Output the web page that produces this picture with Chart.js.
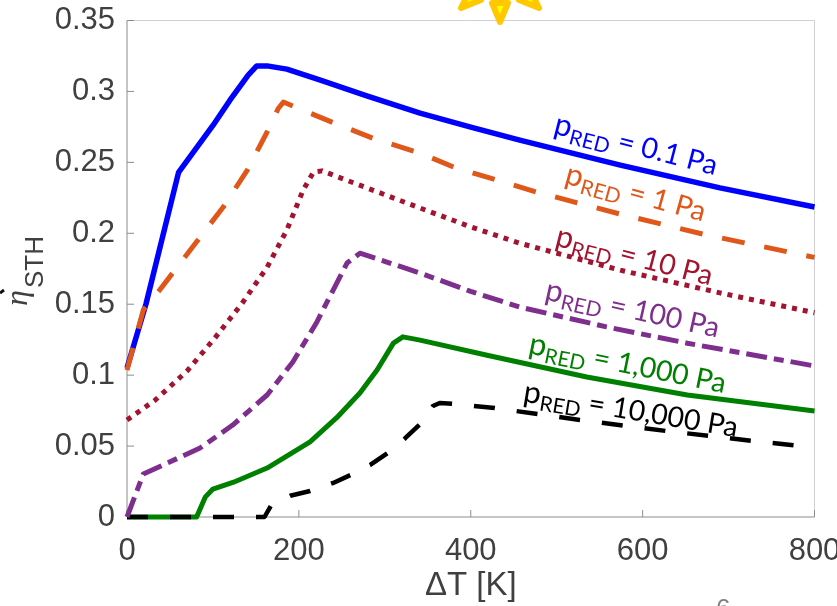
<!DOCTYPE html>
<html>
<head>
<meta charset="utf-8">
<title>Solar to hydrogen efficiency</title>
<script src="https://cdn.jsdelivr.net/npm/chart.js@4"></script>
<style>
  html, body { margin: 0; padding: 0; background: #fff; overflow: hidden; }
  #wrap { width: 837px; height: 606px; position: relative; }
</style>
</head>
<body>
<div id="wrap"><canvas id="sthChart" width="837" height="606"></canvas></div>
<script>
// values, [deltaT, efficiency]
const red01 = [[0,0.105],[22,0.15],[60,0.243],[100,0.276],[120,0.294],[141,0.3115],[151,0.318],[163,0.318],[186,0.3157],[225,0.308],[279,0.2968],[341,0.2847],[400,0.2748],[457,0.2657],[574,0.248],[690,0.232],[800,0.2185]];
const red1 = [[0,0.1036],[19,0.146],[38,0.16],[81,0.194],[112,0.2185],[140,0.2446],[163,0.2714],[176,0.288],[182,0.2925],[193,0.2897],[240,0.278],[286,0.267],[341,0.2565],[380,0.2467],[477,0.229],[574,0.2135],[671,0.1993],[800,0.183]];
const red10 = [[0,0.0684],[33,0.0825],[70,0.103],[102,0.126],[134,0.1507],[163,0.176],[186,0.2023],[205,0.2305],[217,0.2432],[227,0.244],[279,0.232],[341,0.2178],[400,0.2045],[457,0.193],[574,0.174],[690,0.158],[800,0.144]];
const red100 = [[0,0],[19,0.0303],[85,0.0486],[123,0.0648],[163,0.086],[193,0.1093],[221,0.1375],[234,0.153],[256,0.179],[271,0.186],[341,0.172],[400,0.159],[457,0.148],[558,0.134],[652,0.1225],[800,0.1065]];
const red1000 = [[0,0],[81,0],[91,0.014],[100,0.0197],[124,0.0245],[163,0.0345],[213,0.053],[244,0.07],[271,0.0874],[291,0.1036],[310,0.1226],[321,0.127],[341,0.1247],[419,0.114],[535,0.0987],[652,0.086],[800,0.0747]];
const red10000 = [[0,0],[160,0],[168,0.0085],[190,0.015],[213,0.0183],[240,0.024],[260,0.0296],[283,0.0367],[303,0.045],[324,0.0557],[341,0.0655],[356,0.0782],[364,0.0804],[380,0.0797],[428,0.0768],[527,0.0684],[628,0.0606],[729,0.0536],[800,0.049]];

const xTicks = [0, 200, 400, 600, 800];
const yTicks = [0, 0.05, 0.1, 0.15, 0.2, 0.25, 0.3, 0.35];
const yTickLabels = ['0', '0.05', '0.1', '0.15', '0.2', '0.25', '0.3', '0.35'];

const curveNames = ['0.1 Pa', '1 Pa', '10 Pa', '100 Pa', '1,000 Pa', '10,000 Pa'];
const curveColors = ['#0000ff', '#e0571a', '#a2142f', '#7e2f8e', '#008000', '#000000'];

const toPoints = arr => arr.map(p => ({ x: p[0], y: p[1] }));
const mkLine = (i, values, width, dash, order) => ({
  label: 'pRED = ' + curveNames[i],
  data: toPoints(values),
  borderColor: curveColors[i],
  borderWidth: width,
  borderDash: dash,
  borderJoinStyle: 'round',
  pointRadius: 0,
  tension: 0,
  clip: false,
  order
});

// curve labels sit along the lines, anchored in data units
const curveLabels = [
  { i: 0, x: 495, y: 0.2705, deg: 14.5 },
  { i: 1, x: 508, y: 0.2355, deg: 15.5 },
  { i: 2, x: 497, y: 0.1915, deg: 14.5 },
  { i: 3, x: 485, y: 0.1535, deg: 12.5 },
  { i: 4, x: 466, y: 0.1155, deg: 11.5 },
  { i: 5, x: 460, y: 0.0815, deg: 9.5 }
];

const drawFrame = {
  id: 'drawFrame',
  beforeDatasetsDraw(chart) {
    const { ctx, chartArea: a, scales } = chart;
    ctx.save();
    ctx.lineWidth = 1;
    ctx.strokeStyle = '#d0d0d0';
    ctx.beginPath();
    ctx.moveTo(a.left, a.top);
    ctx.lineTo(a.right, a.top);
    ctx.lineTo(a.right, a.bottom);
    ctx.stroke();
    ctx.strokeStyle = '#8c8c8c';
    ctx.beginPath();
    ctx.moveTo(a.left, a.top);
    ctx.lineTo(a.left, a.bottom);
    ctx.lineTo(a.right, a.bottom);
    // inward ticks
    xTicks.forEach(t => {
      const x = scales.x.getPixelForValue(t);
      ctx.moveTo(x, a.bottom);
      ctx.lineTo(x, a.bottom - 7);
    });
    yTicks.forEach(t => {
      const y = scales.y.getPixelForValue(t);
      ctx.moveTo(a.left, y);
      ctx.lineTo(a.left + 7, y);
    });
    ctx.stroke();
    ctx.restore();
  }
};

const drawLabels = {
  id: 'drawLabels',
  afterDatasetsDraw(chart) {
    const { ctx, scales } = chart;
    curveLabels.forEach(l => {
      ctx.save();
      ctx.translate(scales.x.getPixelForValue(l.x), scales.y.getPixelForValue(l.y));
      ctx.rotate(l.deg * Math.PI / 180);
      ctx.fillStyle = curveColors[l.i];
      ctx.textBaseline = 'alphabetic';
      ctx.font = '31px Lato';
      ctx.fillText('p', 0, 0);
      let w = ctx.measureText('p').width;
      ctx.font = '21px Lato';
      ctx.fillText('RED', w, 6);
      w += ctx.measureText('RED').width;
      ctx.font = '28.5px Lato';
      ctx.fillText(' = ' + curveNames[l.i], w, 0);
      ctx.restore();
    });

    // y axis title
    ctx.save();
    ctx.translate(38, 280);
    ctx.rotate(-Math.PI / 2);
    ctx.fillStyle = '#404040';
    ctx.font = 'italic 32px "Liberation Serif"';
    ctx.fillText('η', -26, -11);
    ctx.font = '26px "Liberation Sans"';
    ctx.fillText('STH', -8, 5);
    ctx.restore();
  }
};

// bits of the slide around the plot: the sun at the top edge and cut off glyphs
const drawSlideBits = {
  id: 'drawSlideBits',
  afterDraw(chart) {
    const { ctx } = chart;
    ctx.save();
    ctx.lineJoin = 'round';
    ctx.lineWidth = 6;
    ctx.strokeStyle = '#ffc800';
    ctx.fillStyle = '#ffff00';
    const rays = [
      [[500, 22], [492, 3], [508, 3]],
      [[461, 8], [481, 0], [470, -10]],
      [[539, 8], [519, 0], [530, -10]]
    ];
    rays.forEach(r => {
      ctx.beginPath();
      ctx.moveTo(r[0][0], r[0][1]);
      ctx.lineTo(r[1][0], r[1][1]);
      ctx.lineTo(r[2][0], r[2][1]);
      ctx.closePath();
      ctx.fill();
      ctx.stroke();
    });
    ctx.fillStyle = '#808080';
    ctx.font = '26px "Liberation Sans"';
    ctx.fillText('6', 716, 617);
    // cut off mark at the left edge
    ctx.strokeStyle = '#111';
    ctx.lineWidth = 3;
    ctx.beginPath();
    ctx.moveTo(0, 293);
    ctx.lineTo(4, 290);
    ctx.stroke();
    ctx.restore();
  }
};

new Chart(document.getElementById('sthChart').getContext('2d'), {
  type: 'line',
  data: {
    datasets: [
      mkLine(0, red01, 5.5, [], 6),
      mkLine(1, red1, 5, [23, 20], 5),
      mkLine(2, red10, 5, [5, 6], 4),
      mkLine(3, red100, 5, [21, 7, 10, 7], 1),
      mkLine(4, red1000, 5, [], 3),
      mkLine(5, red10000, 4.5, [21, 22], 2)
    ]
  },
  options: {
    responsive: false,
    animation: false,
    layout: { padding: { top: 20.5, right: 22.5, left: 0, bottom: 0 } },
    plugins: { legend: { display: false }, tooltip: { enabled: false } },
    scales: {
      x: {
        type: 'linear',
        min: 0,
        max: 800,
        afterBuildTicks(s) { s.ticks = xTicks.map(v => ({ value: v })); },
        afterFit(s) { s.height = 89; s.paddingLeft = 0; s.paddingRight = 0; },
        grid: { display: false },
        border: { display: false },
        ticks: {
          maxRotation: 0,
          padding: 8,
          color: '#404040',
          font: { family: 'Liberation Sans', size: 31 },
          callback: v => String(v)
        },
        title: {
          display: true,
          text: 'ΔT [K]',
          color: '#404040',
          padding: { top: -6, bottom: 0 },
          font: { family: 'Liberation Sans', size: 33 }
        }
      },
      y: {
        type: 'linear',
        min: 0,
        max: 0.35,
        afterBuildTicks(s) { s.ticks = yTicks.map(v => ({ value: v })); },
        afterFit(s) { s.width = 127; s.paddingTop = 0; s.paddingBottom = 0; },
        grid: { display: false },
        border: { display: false },
        ticks: {
          padding: 4,
          color: '#404040',
          font: { family: 'Liberation Sans', size: 31 },
          callback: v => yTickLabels[yTicks.indexOf(v)]
        }
      }
    }
  },
  plugins: [drawFrame, drawLabels, drawSlideBits]
});
</script>
</body>
</html>
